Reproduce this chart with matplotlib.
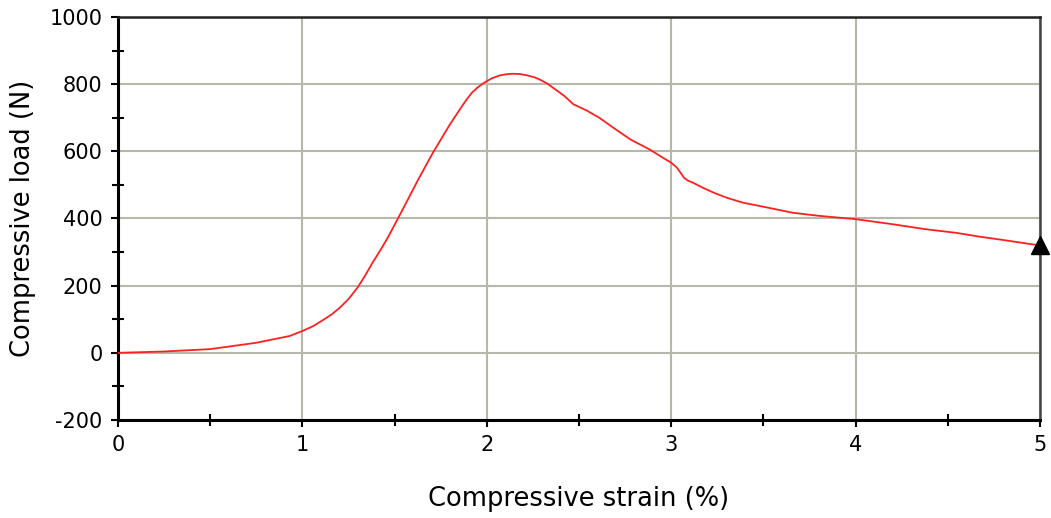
import matplotlib
matplotlib.use("Agg")
import matplotlib.pyplot as plt
from matplotlib.ticker import MultipleLocator

plt.rcParams["axes.unicode_minus"] = False

# strain (%) vs load (N)
strain = [0.0, 0.25, 0.5, 0.75, 0.93, 1.0, 1.06, 1.11, 1.16, 1.2, 1.25, 1.3,
          1.34, 1.38, 1.42, 1.46, 1.52, 1.58, 1.63, 1.71, 1.8, 1.86, 1.89,
          1.92, 1.95, 1.98, 2.0, 2.03, 2.07, 2.1, 2.14, 2.18, 2.22, 2.26,
          2.29, 2.33, 2.36, 2.42, 2.47, 2.54, 2.61, 2.7, 2.78, 2.885, 2.94,
          3.0, 3.03, 3.05, 3.07, 3.09, 3.12, 3.17, 3.23, 3.3, 3.39, 3.5,
          3.66, 3.8, 4.0, 4.2, 4.38, 4.55, 4.67, 4.8, 4.96, 5.0]
load = [0, 4, 11, 30, 50, 65, 80, 97, 115, 133, 160, 195,
        230, 268, 303, 340, 402, 465, 518, 598, 680, 730, 754,
        775, 790, 802, 809, 818, 826, 829, 831, 830, 826, 820,
        813, 801, 789, 765, 740, 722, 700, 665, 635, 605, 586,
        566, 552, 537, 521, 513, 506, 492, 477, 462, 447, 435,
        417, 408, 398, 383, 368, 357, 346, 336, 323, 320]

end_strain = [5.0]
end_load = [320]

fig = plt.figure(figsize=(10.51, 5.18), dpi=100)
ax = fig.add_axes([0.1123, 0.1892, 0.8772, 0.778])

ax.plot(strain, load, color="#ff2020", lw=1.3, zorder=3,
        solid_joinstyle="round")
ax.plot(end_strain, end_load, marker="^", color="black", ms=13, ls="none",
        zorder=4, clip_on=False)

ax.set_xlim(0, 5)
ax.set_ylim(-200, 1000)
ax.xaxis.set_major_locator(MultipleLocator(1))
ax.xaxis.set_minor_locator(MultipleLocator(0.5))
ax.yaxis.set_major_locator(MultipleLocator(200))
ax.yaxis.set_minor_locator(MultipleLocator(100))

ax.grid(True, which="major", color="#b8b8aa", lw=1.5)
ax.set_axisbelow(True)

for side in ["left", "bottom"]:
    ax.spines[side].set_linewidth(2.2)
    ax.spines[side].set_color("black")
ax.spines["top"].set_linewidth(1.8)
ax.spines["top"].set_color("#222222")
ax.spines["right"].set_linewidth(1.8)
ax.spines["right"].set_color("#444444")

ax.tick_params(which="both", width=1.5, labelsize=15, top=False, right=False)
ax.tick_params(which="major", direction="out", length=5, pad=6)
ax.tick_params(which="minor", direction="inout", length=9)

ax.set_xlabel("Compressive strain (%)", fontsize=18.5, labelpad=22)
ax.set_ylabel("Compressive load (N)", fontsize=18.5, labelpad=10)

fig.savefig("out.png", dpi=100)
